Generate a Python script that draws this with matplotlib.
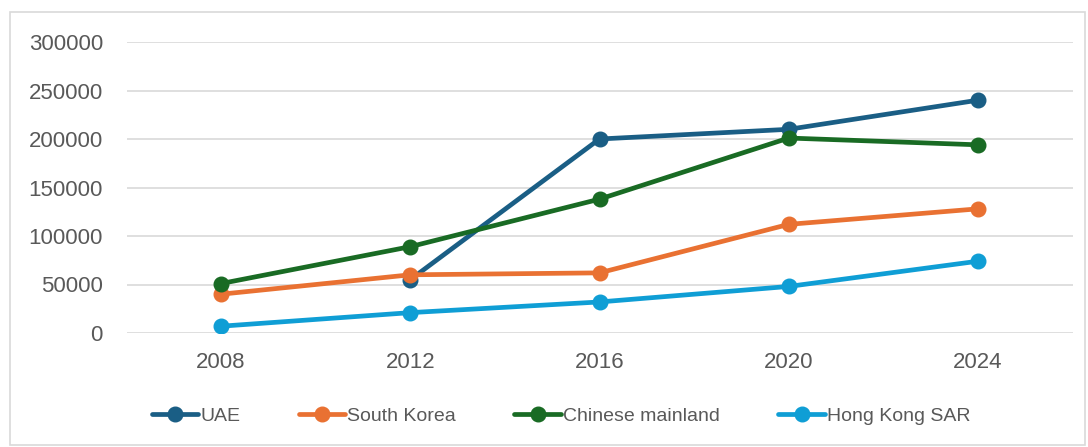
import matplotlib.pyplot as plt
from matplotlib.patches import Rectangle

years = ['2008', '2012', '2016', '2020', '2024']
uae = [None, 55000, 200000, 210000, 240000]
south_korea = [40000, 60000, 62000, 112000, 128000]
chinese_mainland = [51000, 89000, 138000, 201000, 194000]
hong_kong = [7000, 21000, 32000, 48000, 74000]

names = ['UAE', 'South Korea', 'Chinese mainland', 'Hong Kong SAR']
colors = ['#1a5e85', '#e97132', '#196b24', '#0f9ed5']

plt.rcParams['font.family'] = ['Liberation Sans', 'DejaVu Sans']

fig = plt.figure(figsize=(10.88, 4.47), dpi=100)
fig.patches.append(Rectangle((10 / 1088, 2 / 447), 1075 / 1088, 433 / 447,
                             transform=fig.transFigure, fill=False,
                             edgecolor='#d9d9d9', linewidth=1.2))
ax = fig.add_axes([126.5 / 1088, 1 - 333 / 447, 946 / 1088, 291 / 447])

x = list(range(len(years)))
for vals, name, c in zip([uae, south_korea, chinese_mainland, hong_kong], names, colors):
    xs = [i for i, v in zip(x, vals) if v is not None]
    ys = [v for v in vals if v is not None]
    ax.plot(xs, ys, color=c, linewidth=3.4, marker='o', markersize=10.5,
            label=name, solid_capstyle='round')

ax.set_xlim(-0.5, len(years) - 0.5)
ax.set_ylim(0, 300000)
ax.set_yticks(range(0, 300001, 50000))
ax.set_xticks(x)
ax.set_xticklabels(years)
ax.grid(axis='y', color='#d9d9d9', linewidth=1.2)
ax.set_axisbelow(True)
for s in ax.spines.values():
    s.set_visible(False)
ax.tick_params(length=0, labelsize=16, colors='#595959')
ax.tick_params(axis='y', pad=17)
ax.tick_params(axis='x', pad=14)

leg = fig.legend(loc='center', bbox_to_anchor=(561 / 1088, 1 - 416 / 447), ncol=4,
                 frameon=False, handlelength=2.4, handletextpad=0.1, columnspacing=3.0,
                 prop={'family': ['Liberation Sans Narrow', 'Liberation Sans'], 'size': 14})
for t in leg.get_texts():
    t.set_color('#595959')

plt.savefig('out.png', dpi=100)
